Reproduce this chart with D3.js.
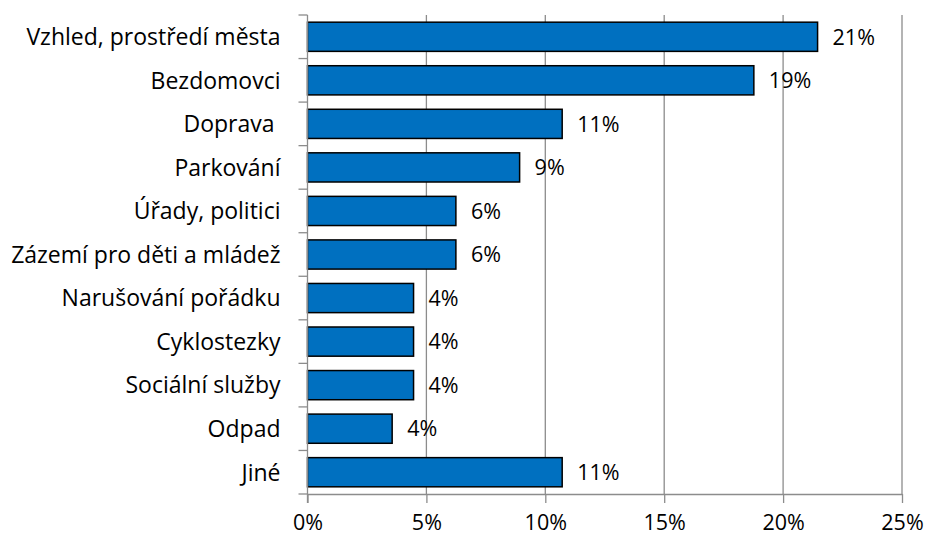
<!DOCTYPE html>
<html>
<head>
<meta charset="utf-8">
<script src="https://cdn.jsdelivr.net/npm/d3@7"></script>
<style>
  body { margin: 0; background: #fff; }
  text { font-family: "Open Sans", sans-serif; fill: #000; }
</style>
</head>
<body>
<div id="chart"></div>
<script>
var categories = ["Vzhled, prostředí města", "Bezdomovci", "Doprava ", "Parkování",
    "Úřady, politici", "Zázemí pro děti a mládež", "Narušování pořádku",
    "Cyklostezky", "Sociální služby", "Odpad", "Jiné"];
var values = [21.45, 18.77, 10.71, 8.92, 6.24, 6.24, 4.46, 4.46, 4.46, 3.56, 10.71];
var valueLabels = ["21%", "19%", "11%", "9%", "6%", "6%", "4%", "4%", "4%", "4%", "11%"];
var xTicks = [0, 5, 10, 15, 20, 25];

var svgWidth = 928, svgHeight = 539;
var margin = { top: 15, right: 26, bottom: 45, left: 307.5 };
var width = svgWidth - margin.left - margin.right;
var height = svgHeight - margin.top - margin.bottom;
var fontSize = "21.5px";

var svg = d3.select("#chart").append("svg")
    .attr("width", svgWidth)
    .attr("height", svgHeight)
    .append("g")
    .attr("transform", "translate(" + margin.left + "," + margin.top + ")");

var x = d3.scaleLinear().domain([0, 25]).range([0, width]);
var y = d3.scaleBand().domain(categories).range([0, height]).paddingInner(0.33).paddingOuter(0.165);
var yTicks = d3.scaleBand().domain(categories).range([0, height]);

// gridlines
svg.selectAll(".grid")
    .data(xTicks.slice(1))
    .enter().append("line")
    .attr("x1", d => x(d)).attr("x2", d => x(d))
    .attr("y1", 0).attr("y2", height)
    .attr("stroke", "#8c8c8c")
    .attr("stroke-width", 1.3);

// bars
svg.selectAll(".bar")
    .data(values)
    .enter().append("rect")
    .attr("x", 0)
    .attr("y", (d, i) => y(categories[i]))
    .attr("width", d => x(d))
    .attr("height", y.bandwidth())
    .attr("fill", "#0070c0")
    .attr("stroke", "#000")
    .attr("stroke-width", 1.5);

// value labels
svg.selectAll(".val")
    .data(values)
    .enter().append("text")
    .attr("x", d => x(d) + 15)
    .attr("y", (d, i) => y(categories[i]) + y.bandwidth() / 2)
    .attr("dy", "0.36em")
    .style("font-size", fontSize)
    .text((d, i) => valueLabels[i]);

// x axis
var xAxis = svg.append("g")
    .attr("transform", "translate(0," + height + ")")
    .call(d3.axisBottom(x).tickValues(xTicks).tickFormat(d => d + "%").tickSizeInner(9).tickSizeOuter(0).tickPadding(12));
xAxis.select(".domain").attr("stroke", "#8c8c8c").attr("stroke-width", 1.3);
xAxis.selectAll(".tick line").attr("stroke", "#8c8c8c").attr("stroke-width", 1.3);
xAxis.selectAll("text").style("font-size", fontSize).attr("fill", "#000");

// y axis with ticks at band boundaries
var yAxis = svg.append("g");
yAxis.append("line")
    .attr("x1", 0).attr("x2", 0)
    .attr("y1", 0).attr("y2", height + 9)
    .attr("stroke", "#8c8c8c").attr("stroke-width", 1.3);
yAxis.selectAll(".ytick")
    .data(categories.concat([null]))
    .enter().append("line")
    .attr("x1", -9).attr("x2", 0)
    .attr("y1", (d, i) => d === null ? height : yTicks(d))
    .attr("y2", (d, i) => d === null ? height : yTicks(d))
    .attr("stroke", "#8c8c8c").attr("stroke-width", 1.3);
yAxis.selectAll(".ylab")
    .data(categories)
    .enter().append("text")
    .attr("x", -27)
    .attr("y", d => yTicks(d) + yTicks.bandwidth() / 2)
    .attr("dy", "0.36em")
    .attr("text-anchor", "end")
    .style("font-size", "23px")
    .style("white-space", "pre")
    .text(d => d);
</script>
</body>
</html>
